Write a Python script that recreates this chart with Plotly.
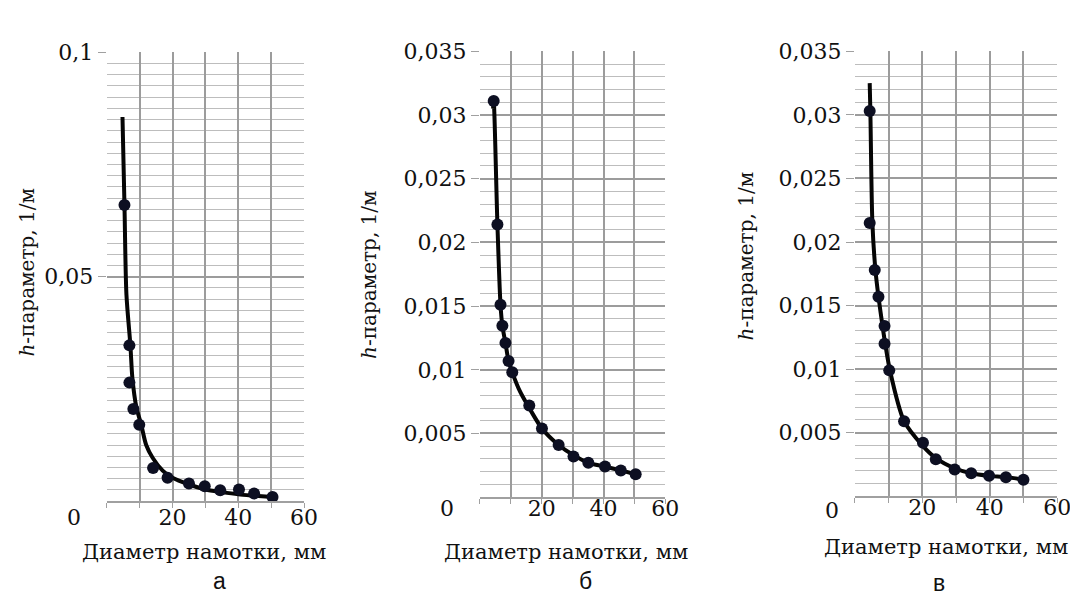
import plotly.graph_objects as go

# ---------- data ----------
# panel а
pts_a_x = [5.4, 6.9, 6.9, 8.1, 9.9, 14.1, 18.5, 25, 29.8, 34.5, 40.2, 44.8, 50.4]
pts_a_y = [0.066, 0.0347, 0.0264, 0.0205, 0.017, 0.0074, 0.0052, 0.0039, 0.0033, 0.0024, 0.0026, 0.0017, 0.0009]
curve_a_x = [4.8, 5.4, 6.0, 7.2, 7.8, 9.0, 10.5, 12.0, 14.0, 17.0, 20.0, 25.0, 30.0, 35.0, 40.0, 45.0, 50.4]
curve_a_y = [0.0856, 0.066, 0.046, 0.0347, 0.0275, 0.021, 0.017, 0.0125, 0.0096, 0.0068, 0.0052, 0.0037, 0.0026, 0.0020, 0.0015, 0.0012, 0.0009]

# panel б
pts_b_x = [4.5, 5.7, 6.7, 7.3, 8.3, 9.3, 10.5, 16.0, 20.1, 25.5, 30.3, 35.1, 40.5, 45.6, 50.4]
pts_b_y = [0.0311, 0.0214, 0.0151, 0.01346, 0.0121, 0.0107, 0.0098, 0.0072, 0.0054, 0.0041, 0.0032, 0.0027, 0.0024, 0.0021, 0.0018]
curve_b_x = [4.3, 4.5, 5.7, 6.7, 7.3, 8.3, 9.3, 10.5, 13.0, 16.0, 20.1, 25.5, 30.3, 35.1, 40.5, 45.6, 50.4]
curve_b_y = [0.0305, 0.0311, 0.0214, 0.0151, 0.01346, 0.0121, 0.0107, 0.0098, 0.0083, 0.0070, 0.0054, 0.0041, 0.0033, 0.0027, 0.0024, 0.0021, 0.0018]

# panel в
pts_c_x = [4.4, 4.4, 5.9, 7.0, 8.8, 8.8, 10.2, 14.6, 20.2, 24.0, 29.6, 34.5, 39.8, 44.8, 50.0]
pts_c_y = [0.0303, 0.0215, 0.0178, 0.0157, 0.0134, 0.0120, 0.0099, 0.0059, 0.0042, 0.0029, 0.0021, 0.0018, 0.0016, 0.0015, 0.0013]
curve_c_x = [4.4, 4.6, 5.2, 6.1, 7.0, 8.2, 9.0, 10.4, 14.6, 20.0, 24.0, 29.6, 34.5, 39.8, 44.8, 50.0]
curve_c_y = [0.0325, 0.0303, 0.0215, 0.0178, 0.0157, 0.0134, 0.0120, 0.0099, 0.0059, 0.0040, 0.0030, 0.0022, 0.0018, 0.0016, 0.0015, 0.0013]

x_tickvals = [0, 10, 20, 30, 40, 50, 60]
x_ticktext = ["", "", "20", "", "40", "", "60"]
ya_tickvals = [0.05, 0.1]
ya_ticktext = ["0,05", "0,1"]
yb_tickvals = [0.005, 0.01, 0.015, 0.02, 0.025, 0.03, 0.035]
yb_ticktext = ["0,005", "0,01", "0,015", "0,02", "0,025", "0,03", "0,035"]

x_title = "Диаметр намотки, мм"
y_title = "<i>h</i>-параметр, 1/м"
captions = ["а", "б", "в"]

W, H = 1078, 595
SERIF = "DejaVu Serif, Liberation Serif, serif"
SANS = "Liberation Sans, Arial, sans-serif"
LINE_C = "#050505"
MARK_C = "#0d0f22"
FS_TICK = 22
FS_XT = 21
FS_YT = 20

fig = go.Figure()

panels = [
    dict(px=(100, 300), py=(33, 491), yr=0.1, ymin=0.0025, tv=ya_tickvals, tt=ya_ticktext,
         pts=(pts_a_x, pts_a_y), cur=(curve_a_x, curve_a_y), so=-9),
    dict(px=(478, 666), py=(32, 487), yr=0.035, ymin=0.001, tv=yb_tickvals, tt=yb_ticktext,
         pts=(pts_b_x, pts_b_y), cur=(curve_b_x, curve_b_y), so=-14),
    dict(px=(858, 1063), py=(32, 486), yr=0.035, ymin=0.001, tv=yb_tickvals, tt=yb_ticktext,
         pts=(pts_c_x, pts_c_y), cur=(curve_c_x, curve_c_y), so=-14),
]

layout = {}
for i, p in enumerate(panels):
    n = "" if i == 0 else str(i + 1)
    xa, ya = "x" + n, "y" + n
    fig.add_trace(go.Scatter(x=p["cur"][0], y=p["cur"][1], mode="lines",
                             line=dict(color=LINE_C, width=4, shape="spline", smoothing=0.8),
                             xaxis=xa, yaxis=ya, showlegend=False, hoverinfo="skip"))
    fig.add_trace(go.Scatter(x=p["pts"][0], y=p["pts"][1], mode="markers",
                             marker=dict(color=MARK_C, size=12),
                             xaxis=xa, yaxis=ya, showlegend=False))
    layout["xaxis" + n] = dict(
        domain=[p["px"][0] / W, p["px"][1] / W], anchor=ya, range=[0, 60],
        tickvals=x_tickvals, ticktext=x_ticktext, showgrid=True, gridcolor="#9c9c9c", gridwidth=1.6,
        zeroline=False, showline=True, linecolor="#a0a0a0", linewidth=1.5,
        ticks="outside", ticklen=5, tickcolor="#a0a0a0", ticklabelstandoff=p["so"],
        tickfont=dict(family=SERIF, size=FS_TICK, color="#111"), fixedrange=True)
    layout["yaxis" + n] = dict(
        domain=[1 - p["py"][1] / H, 1 - p["py"][0] / H], anchor=xa, range=[0, p["yr"]],
        tickvals=p["tv"], ticktext=p["tt"], showgrid=True, gridcolor="#9c9c9c", gridwidth=1.6,
        minor=dict(dtick=p["ymin"], tick0=0, showgrid=True, gridcolor="#bdbdbd", gridwidth=1.3),
        zeroline=False, showline=False,
        ticks="outside", ticklen=8, tickcolor="#a0a0a0",
        tickfont=dict(family=SERIF, size=FS_TICK, color="#111"), fixedrange=True)

annotations = []
zero_pos = [(67, 508), (445, 499), (835, 501)]
ytitle_pos = [(19, 257), (366, 260), (748, 241)]
xtitle_pos = [(199, 543), (565, 543), (950, 538)]
cap_pos = [(214, 573), (585, 573), (943, 575)]
for i in range(3):
    annotations.append(dict(text="0", x=zero_pos[i][0] / W, y=1 - zero_pos[i][1] / H, xref="paper", yref="paper",
                            showarrow=False, font=dict(family=SERIF, size=FS_TICK, color="#111"),
                            xanchor="center", yanchor="middle"))
    annotations.append(dict(text=y_title, x=ytitle_pos[i][0] / W, y=1 - ytitle_pos[i][1] / H, xref="paper", yref="paper",
                            showarrow=False, textangle=-90, font=dict(family=SERIF, size=FS_YT, color="#111"),
                            xanchor="center", yanchor="middle"))
    annotations.append(dict(text=x_title, x=xtitle_pos[i][0] / W, y=1 - xtitle_pos[i][1] / H, xref="paper", yref="paper",
                            showarrow=False, font=dict(family=SERIF, size=FS_XT, color="#111"),
                            xanchor="center", yanchor="middle"))
    annotations.append(dict(text=captions[i], x=cap_pos[i][0] / W, y=1 - cap_pos[i][1] / H, xref="paper", yref="paper",
                            showarrow=False, font=dict(family=SANS, size=23, color="#111"),
                            xanchor="center", yanchor="middle"))

fig.update_layout(width=W, height=H, autosize=False, margin=dict(l=0, r=0, t=0, b=0),
                  font=dict(family=SERIF),
                  paper_bgcolor="white", plot_bgcolor="white", annotations=annotations, **layout)

fig.write_html("out.html")
